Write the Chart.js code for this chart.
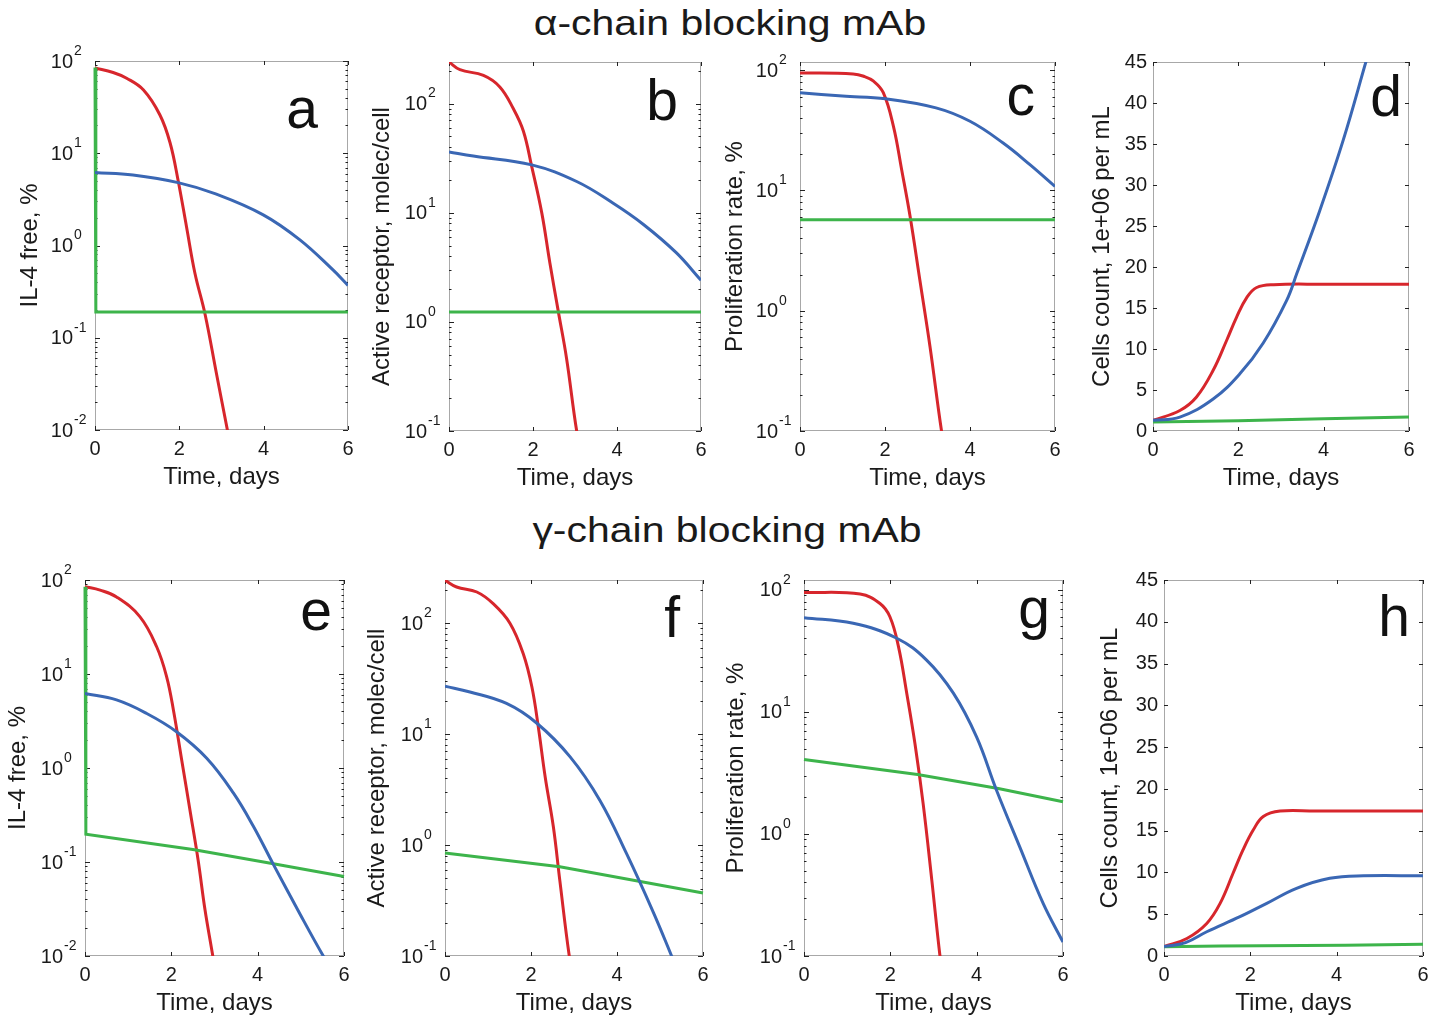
<!DOCTYPE html>
<html>
<head>
<meta charset="utf-8">
<script src="https://cdn.jsdelivr.net/npm/chart.js@4.4.1/dist/chart.umd.min.js"></script>
<style>
  body { margin: 0; width: 1440px; height: 1016px; background: #fff; position: relative; overflow: hidden;
         font-family: "Liberation Sans", Arial, Helvetica, sans-serif; }
  canvas { position: absolute; }
  .title { position: absolute; font-size: 35px; line-height: 35px; color: #1a1a1a; white-space: nowrap;
           transform: translateX(-50%) scaleX(1.17); }
</style>
</head>
<body>
<div class="title" style="left:730px; top:5px;">α-chain blocking mAb</div>
<div class="title" style="left:727px; top:512px;">γ-chain blocking mAb</div>
<script>
// ---- data (time in days) ----
// a: IL-4 free, alpha-chain
const aRedT = [0, 0.43, 0.75, 1.15, 1.54, 1.78, 1.97, 2.17, 2.37, 2.61, 2.88, 3.14, 3.4];
const aRed = [84, 75, 65, 48.5, 26, 13, 5.1, 1.6, 0.5, 0.18, 0.041, 0.01, 0.0025];
const aBlueT = [0, 0.9, 1.97, 2.88, 3.99, 4.86, 5.65, 6];
const aBlue = [6.2, 5.8, 4.8, 3.6, 2.15, 1.15, 0.54, 0.37];
const aGreenT = [0, 0.02, 6];
const aGreen = [85, 0.19, 0.19];

// b: active receptor, alpha-chain
const bRedT = [0, 0.26, 0.82, 1.21, 1.53, 1.77, 1.97, 2.21, 2.4, 2.6, 2.8, 3.04, 3.2];
const bRed = [240, 204, 181, 142, 90, 56, 26.4, 9.9, 3.5, 1.26, 0.46, 0.1, 0.05];
const bBlueT = [0, 0.58, 1.97, 3.04, 3.91, 4.63, 5.41, 6];
const bBlue = [36, 33, 27.4, 19.3, 12.2, 7.8, 4.3, 2.4];
const bGreenT = [0, 6];
const bGreen = [1.23, 1.23];

// c: proliferation rate, alpha-chain
const cRedT = [0, 1.25, 1.5, 1.73, 1.96, 2.2, 2.39, 2.59, 2.82, 3.06, 3.33, 3.5];
const cRed = [95, 93, 89, 81, 65, 34, 15, 6.1, 1.8, 0.5, 0.1, 0.045];
const cBlueT = [0, 1, 2.02, 3.2, 4, 4.78, 5.41, 6];
const cBlue = [65, 61, 57.8, 48.6, 37.6, 24.8, 16.4, 10.8];
const cGreenT = [0, 6];
const cGreen = [5.7, 5.7];

// d: cells count, alpha-chain
const dRedT = [0, 0.63, 1.02, 1.41, 1.73, 1.96, 2.2, 2.43, 2.83, 4, 6];
const dRed = [1.3, 2.5, 4.15, 7.4, 11.1, 13.9, 16.3, 17.5, 17.85, 17.9, 17.9];
const dBlueT = [0, 0.63, 1.41, 2.04, 2.58, 3.13, 3.37, 3.91, 4.46, 5.0, 5.1];
const dBlue = [1.3, 1.7, 3.9, 7.0, 10.7, 15.9, 19.2, 26.9, 35.5, 45.2, 47];
const dGreenT = [0, 2, 4, 6];
const dGreen = [1.1, 1.25, 1.5, 1.7];

// e: IL-4 free, gamma-chain
const eRedT = [0, 0.35, 0.73, 1.27, 1.66, 1.89, 2.05, 2.24, 2.43, 2.62, 2.78, 2.95, 3.1];
const eRed = [85, 78, 66, 40.8, 19.5, 9.4, 4.1, 1.22, 0.36, 0.105, 0.031, 0.0107, 0.004];
const eBlueT = [0, 0.73, 1.43, 2.12, 2.82, 3.44, 3.9, 4.36, 4.98, 5.52, 5.7];
const eBlue = [6.2, 5.3, 3.8, 2.43, 1.27, 0.54, 0.24, 0.095, 0.028, 0.01, 0.0075];
const eGreenT = [0, 0.02, 2.5, 4.3, 6];
const eGreen = [85, 0.197, 0.136, 0.097, 0.07];

// f: active receptor, gamma-chain
const fRedT = [0, 0.27, 0.74, 1.12, 1.51, 1.82, 2.02, 2.17, 2.33, 2.52, 2.67, 2.89, 3.0];
const fRed = [244, 212, 191, 150, 100, 53, 26.7, 11.6, 4.1, 1.46, 0.48, 0.1, 0.06];
const fBlueT = [0, 0.58, 1.43, 2.13, 2.91, 3.6, 4.22, 4.84, 5.27, 5.4];
const fBlue = [27, 24, 18.9, 12.6, 6.24, 2.54, 0.84, 0.25, 0.1, 0.075];
const fGreenT = [0, 2.67, 6];
const fGreen = [0.85, 0.637, 0.37];

// g: proliferation rate, gamma-chain
const gRedT = [0, 1.3, 1.76, 1.99, 2.19, 2.38, 2.57, 2.76, 2.96, 3.15, 3.3];
const gRed = [95, 92, 77, 60, 34, 14.2, 5.5, 1.77, 0.42, 0.1, 0.04];
const gBlueT = [0, 1.14, 2.15, 2.84, 3.46, 4.0, 4.46, 5.0, 5.54, 6];
const gBlue = [59, 53, 40, 26.5, 14.2, 6.2, 2.28, 0.78, 0.27, 0.13];
const gGreenT = [0, 2.63, 4.5, 6];
const gGreen = [4.07, 3.07, 2.35, 1.83];

// h: cells count, gamma-chain
const hRedT = [0, 0.53, 0.99, 1.3, 1.6, 1.83, 2.07, 2.3, 2.69, 3.5, 6];
const hRed = [1.12, 2.1, 3.9, 6.3, 9.9, 12.7, 15.1, 16.7, 17.35, 17.35, 17.35];
const hBlueT = [0, 0.5, 0.99, 1.76, 2.38, 3.07, 3.84, 4.62, 6];
const hBlue = [1.12, 1.6, 2.9, 4.7, 6.3, 8.1, 9.3, 9.6, 9.6];
const hGreenT = [0, 1.3, 4.2, 6];
const hGreen = [1.1, 1.2, 1.3, 1.4];

const xTicks = [0, 2, 4, 6];

const FONT = '"Liberation Sans", Arial, Helvetica, sans-serif';
const INK = '#1a1a1a';
const BLUE = '#3a67b4', GREEN = '#3db44b', RED = '#d7262c';

const panels = [
  { letter: 'a', area: [95, 61, 348, 430], titleX: 30, log: true, min: 0.01, max: 100, label: 'IL-4 free, %',
    series: [[aBlueT, aBlue], [aGreenT, aGreen], [aRedT, aRed]], ldx: 30, ldy: 67 },
  { letter: 'b', area: [449, 62, 701, 431], titleX: 382, log: true, min: 0.1, max: 240, label: 'Active receptor, molec/cell',
    series: [[bBlueT, bBlue], [bGreenT, bGreen], [bRedT, bRed]], ldx: 23, ldy: 58 },
  { letter: 'c', area: [800, 62, 1055, 431], titleX: 735, log: true, min: 0.1, max: 117, label: 'Proliferation rate, %',
    series: [[cBlueT, cBlue], [cGreenT, cGreen], [cRedT, cRed]], ldx: 20, ldy: 53 },
  { letter: 'd', area: [1153, 62, 1409, 431], titleX: 1102, log: false, min: 0, max: 45, label: 'Cells count, 1e+06 per mL',
    series: [[dBlueT, dBlue], [dGreenT, dGreen], [dRedT, dRed]], ldx: 7, ldy: 54 },
  { letter: 'e', area: [85, 580, 344, 956], titleX: 18, log: true, min: 0.01, max: 100, label: 'IL-4 free, %',
    series: [[eBlueT, eBlue], [eGreenT, eGreen], [eRedT, eRed]], ldx: 12, ldy: 50 },
  { letter: 'f', area: [445, 580, 703, 956], titleX: 377, log: true, min: 0.1, max: 245, label: 'Active receptor, molec/cell',
    series: [[fBlueT, fBlue], [fGreenT, fGreen], [fRedT, fRed]], ldx: 23, ldy: 57 },
  { letter: 'g', area: [804, 580, 1063, 956], titleX: 736, log: true, min: 0.1, max: 120, label: 'Proliferation rate, %',
    series: [[gBlueT, gBlue], [gGreenT, gGreen], [gRedT, gRed]], ldx: 13, ldy: 48 },
  { letter: 'h', area: [1164, 580, 1423, 956], titleX: 1110, log: false, min: 0, max: 45, label: 'Cells count, 1e+06 per mL',
    series: [[hBlueT, hBlue], [hGreenT, hGreen], [hRedT, hRed]], ldx: 13, ldy: 56 }
];

function pts(t, v) { return t.map((x, i) => ({ x: x, y: v[i] })); }

// matlab-like box with inward ticks, log labels and the panel letter
const boxPlugin = {
  id: 'matlabBox',
  beforeDatasetsDraw(chart) {
    const { ctx, chartArea: ca, scales: { x, y } } = chart;
    ctx.save();
    ctx.strokeStyle = '#a8a8a8';
    ctx.lineWidth = 1;
    ctx.strokeRect(ca.left + 0.5, ca.top + 0.5, ca.right - ca.left - 1, ca.bottom - ca.top - 1);
    ctx.strokeStyle = '#222';
    ctx.beginPath();
    xTicks.forEach(v => {
      const px = Math.round(x.getPixelForValue(v)) + 0.5;
      ctx.moveTo(px, ca.bottom); ctx.lineTo(px, ca.bottom - 4);
      ctx.moveTo(px, ca.top); ctx.lineTo(px, ca.top + 4);
    });
    if (y.type === 'logarithmic') {
      const lo = Math.floor(Math.log10(y.min)), hi = Math.ceil(Math.log10(y.max));
      for (let e = lo; e <= hi; e++) {
        for (let m = 1; m <= 9; m++) {
          const v = m * Math.pow(10, e);
          if (v < y.min * 0.999 || v > y.max * 1.001) continue;
          const py = Math.round(y.getPixelForValue(v)) + 0.5;
          const len = m === 1 ? 5 : 2.5;
          ctx.moveTo(ca.left, py); ctx.lineTo(ca.left + len, py);
          ctx.moveTo(ca.right, py); ctx.lineTo(ca.right - len, py);
        }
      }
    } else {
      y.ticks.forEach(t => {
        const py = Math.round(y.getPixelForValue(t.value)) + 0.5;
        ctx.moveTo(ca.left, py); ctx.lineTo(ca.left + 4, py);
        ctx.moveTo(ca.right, py); ctx.lineTo(ca.right - 4, py);
      });
    }
    ctx.stroke();
    ctx.restore();
  },
  afterDraw(chart, args, opts) {
    const { ctx, chartArea: ca, scales: { y } } = chart;
    ctx.save();
    ctx.fillStyle = INK;
    if (y.type === 'logarithmic') {
      const lo = Math.ceil(Math.log10(y.min) - 1e-9), hi = Math.floor(Math.log10(y.max) + 1e-9);
      for (let e = lo; e <= hi; e++) {
        const py = y.getPixelForValue(Math.pow(10, e));
        ctx.textBaseline = 'middle';
        ctx.textAlign = 'right';
        ctx.font = '20px ' + FONT;
        ctx.fillText('10', ca.left - 22, py + 1);
        ctx.textAlign = 'left';
        ctx.font = '14px ' + FONT;
        ctx.fillText(String(e), ca.left - 21, py - 10);
      }
    }
    ctx.font = '57px ' + FONT;
    ctx.textAlign = 'right';
    ctx.textBaseline = 'alphabetic';
    ctx.fillStyle = '#111';
    ctx.fillText(opts.letter, ca.right - opts.dx, ca.top + opts.dy);
    ctx.restore();
  }
};

const colors = [BLUE, GREEN, RED];

panels.forEach(p => {
  const [l, t, r, b] = p.area;
  const canvasLeft = Math.round(p.titleX - 14);
  const L = l - canvasLeft, T = 30, R = 16, B = 62;
  const cv = document.createElement('canvas');
  cv.width = L + (r - l) + R;
  cv.height = T + (b - t) + B;
  cv.style.left = canvasLeft + 'px';
  cv.style.top = (t - T) + 'px';
  document.body.appendChild(cv);

  const yScale = p.log
    ? { type: 'logarithmic', min: p.min, max: p.max, ticks: { display: false } }
    : { type: 'linear', min: p.min, max: p.max,
        ticks: { stepSize: 5, padding: 6, color: INK, font: { size: 20, family: FONT } } };
  Object.assign(yScale, {
    grid: { display: false, drawTicks: false },
    border: { display: false },
    title: { display: true, text: p.label, color: INK, font: { size: 24, family: FONT }, padding: 0 },
    afterFit: s => { s.width = L; }
  });

  new Chart(cv, {
    type: 'line',
    data: {
      datasets: p.series.map((s, i) => ({
        data: pts(s[0], s[1]),
        borderColor: colors[i],
        borderWidth: 3,
        pointRadius: 0,
        tension: i === 1 ? 0 : 0.4,
        clip: i === 1 ? 4 : undefined
      }))
    },
    options: {
      responsive: false,
      animation: false,
      events: [],
      layout: { padding: { top: T, right: R, left: 0, bottom: 0 } },
      elements: { line: { capBezierPoints: false } },
      plugins: {
        legend: { display: false },
        tooltip: { enabled: false },
        matlabBox: { letter: p.letter, dx: p.ldx, dy: p.ldy }
      },
      scales: {
        x: {
          type: 'linear', min: 0, max: 6,
          afterBuildTicks: s => { s.ticks = xTicks.map(v => ({ value: v })); },
          ticks: { padding: 7, maxRotation: 0, color: INK, font: { size: 20, family: FONT } },
          grid: { display: false, drawTicks: false },
          border: { display: false },
          title: { display: true, text: 'Time, days', color: INK, font: { size: 24, family: FONT }, padding: 0 },
          afterFit: s => { s.height = B; }
        },
        y: yScale
      }
    },
    plugins: [boxPlugin]
  });
});
</script>
</body>
</html>
